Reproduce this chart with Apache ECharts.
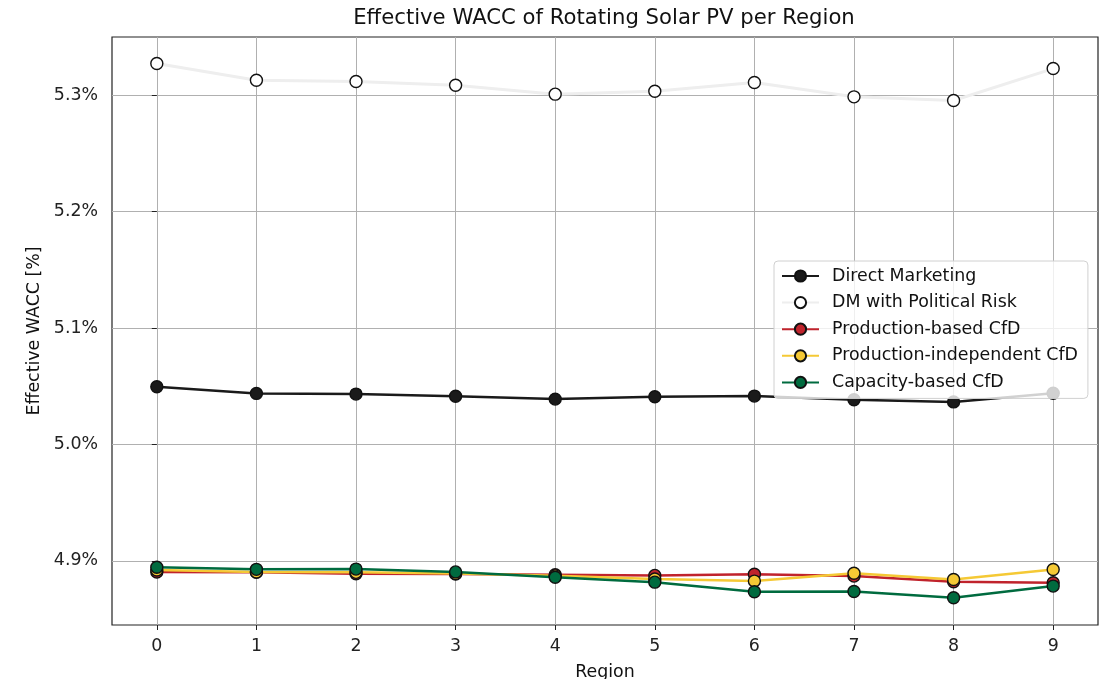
<!DOCTYPE html>
<html><head><meta charset="utf-8">
<script src="https://cdn.jsdelivr.net/npm/echarts@6/dist/echarts.min.js"></script>
<style>html,body{margin:0;padding:0;background:#fff}#c{width:1106px;height:679px}</style>
</head><body><div id="c"></div>
<script>
const regions = [0,1,2,3,4,5,6,7,8,9];
const directMarketing = [5.0496,5.0439,5.0433,5.0414,5.0390,5.0410,5.0416,5.0384,5.0366,5.0440];
const dmPoliticalRisk = [5.3272,5.3129,5.3118,5.3086,5.3009,5.3034,5.3109,5.2986,5.2955,5.3229];
const productionBased = [4.8905,4.8902,4.8890,4.8888,4.8882,4.8876,4.8886,4.8870,4.8821,4.8813];
const productionIndependent = [4.8922,4.8906,4.8902,4.8892,4.8872,4.8845,4.8827,4.8895,4.8841,4.8927];
const capacityBased = [4.8946,4.8928,4.8930,4.8906,4.8860,4.8818,4.8736,4.8738,4.8684,4.8784];
const yTicks = [4.9,5.0,5.1,5.2,5.3];
const xTicks = [0,1,2,3,4,5,6,7,8,9];

const font = 'DejaVu Sans';
function mk(name, data, color, fill, lw) {
  return {
    name, type: 'line', data: regions.map((r,i)=>[r,data[i]]),
    symbol: 'circle', symbolSize: 12,
    lineStyle: {color: color, width: lw},
    itemStyle: {color: fill, borderColor: '#111', borderWidth: 1.4},
    emphasis: {disabled: true}, animation: false
  };
}
const chart = echarts.init(document.getElementById('c'), null, {renderer:'canvas'});
chart.setOption({
  animation: false,
  title: {text: 'Effective WACC of Rotating Solar PV per Region', left: 604, textAlign: 'center', top: 8, padding: 0,
    textStyle: {fontFamily: font, fontSize: 21.2, fontWeight: 'normal', color: '#111'}},
  grid: {left: 112, right: 8, top: 37, bottom: 54, show: true, borderColor: '#222', borderWidth: 1.2,
    containLabel: false, outerBoundsMode: 'none'},
  legend: {
    orient: 'vertical', left: 774, top: 261, itemWidth: 37, itemHeight: 14, itemGap: 6.6,
    padding: [5,10,6,7],
    backgroundColor: 'rgba(255,255,255,0.8)', borderColor: '#d0d0d0', borderWidth: 1, borderRadius: 4,
    textStyle: {fontFamily: font, fontSize: 17.4, lineHeight: 20, color: '#111', padding: [0,0,0,8]},
    data: ['Direct Marketing','DM with Political Risk','Production-based CfD','Production-independent CfD','Capacity-based CfD']
  },
  xAxis: {type: 'value', min: -0.45, max: 9.45, name: 'Region', nameLocation: 'middle', nameGap: 39,
    nameTextStyle: {fontFamily: font, fontSize: 17.4, color: '#111'},
    axisLine: {show: false},
    axisTick: {show: true, length: 5, customValues: xTicks, lineStyle: {color: '#222'}},
    axisLabel: {customValues: xTicks, fontFamily: font, fontSize: 17.4, color: '#222', margin: 13},
    splitLine: {show: true, lineStyle: {color: '#b0b0b0', width: 1}}},
  yAxis: {type: 'value', min: 4.845, max: 5.35, name: 'Effective WACC [%]', nameLocation: 'middle', nameGap: 66,
    nameTextStyle: {fontFamily: font, fontSize: 17.4, color: '#111'},
    axisLine: {show: false},
    axisTick: {show: true, length: 5, customValues: yTicks, lineStyle: {color: '#222'}},
    axisLabel: {customValues: yTicks, fontFamily: font, fontSize: 17.4, color: '#222', margin: 14,
      formatter: v => v.toFixed(1) + '%'},
    splitLine: {show: true, lineStyle: {color: '#b0b0b0', width: 1}}},
  series: [
    mk('Direct Marketing', directMarketing, '#1a1a1a', '#1a1a1a', 2.5),
    mk('DM with Political Risk', dmPoliticalRisk, '#eeeeee', '#ffffff', 3),
    mk('Production-based CfD', productionBased, '#c0232c', '#c0232c', 2.5),
    mk('Production-independent CfD', productionIndependent, '#f5c935', '#f5c935', 2.5),
    mk('Capacity-based CfD', capacityBased, '#006b3f', '#006b3f', 2.5)
  ]
});
</script></body></html>
